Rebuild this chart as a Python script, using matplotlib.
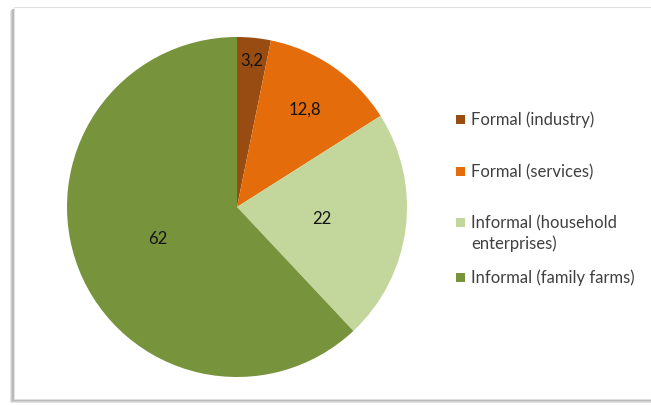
# -*- coding: utf-8 -*-
"""Pie chart of employment shares by sector."""
import numpy
import matplotlib
matplotlib.use('Agg')
# pylint: disable=wrong-import-position
import matplotlib.pyplot
import matplotlib.patches

sectors = [
    'Formal (industry)',
    'Formal (services)',
    'Informal (household\nenterprises)',
    'Informal (family farms)',
]
shares = [3.2, 12.8, 22, 62]
share_labels = ['3,2', '12,8', '22', '62']
colors = ['#984C12', '#E46C0A', '#C3D69B', '#77933C']
label_radius = [0.87, 0.70, 0.50, 0.50]


def main():
    """main."""
    width_px, height_px = 651, 406
    fig = matplotlib.pyplot.figure(figsize=(width_px / 100., height_px / 100.), dpi=100)
    fig.patch.set_facecolor('white')

    # framed chart area with a soft shadow on the left and bottom
    def fx(px):
        return px / width_px

    def fy(py):
        return 1. - py / height_px

    for off, col in [(4, '#e4e4e4'), (3, '#cfcfcf'), (2, '#b8b8b8')]:
        fig.patches.append(matplotlib.patches.Rectangle(
            (fx(14 - off), fy(400 + off)), fx(700), fy(8) - fy(400),
            transform=fig.transFigure, facecolor=col, edgecolor='none',
            zorder=0))
    fig.patches.append(matplotlib.patches.Rectangle(
        (fx(14), fy(400)), fx(700), fy(8) - fy(400),
        transform=fig.transFigure, facecolor='white', edgecolor='#e2e2e2',
        linewidth=0.8, zorder=1))

    # pie axes: centre (237, 208), radius 170 px
    radius = 170
    cx, cy = 237, 208
    ax = fig.add_axes([fx(cx - radius), fy(cy + radius),
                       2 * radius / width_px, 2 * radius / height_px])
    ax.set_zorder(2)
    wedges, _ = ax.pie(shares, colors=colors, startangle=90,
                       counterclock=False, radius=1.0,
                       wedgeprops={'linewidth': 0})
    ax.set_xlim(-1, 1)
    ax.set_ylim(-1, 1)
    ax.set_aspect('auto')
    ax.axis('off')

    for wedge, text, dist in zip(wedges, share_labels, label_radius):
        ang = numpy.deg2rad((wedge.theta1 + wedge.theta2) / 2.)
        ax.text(dist * numpy.cos(ang), dist * numpy.sin(ang), text,
                ha='center', va='center', fontsize=12, family='Lato',
                color='#141414')

    # legend drawn as squares and text
    legend_rows = [120, 172, 223, 278]
    for name, col, py in zip(sectors, colors, legend_rows):
        fig.patches.append(matplotlib.patches.Rectangle(
            (fx(456), fy(py + 4.5)), 8.5 / width_px, 8.5 / height_px,
            transform=fig.transFigure, facecolor=col, edgecolor='none',
            zorder=3))
        n_lines = name.count('\n') + 1
        fig.text(fx(471), fy(py + 10.5 * (n_lines - 1)), name,
                 ha='left', va='center', multialignment='left',
                 fontsize=12, family='Lato', color='#404040',
                 linespacing=1.3, zorder=3)

    fig.savefig('out.png', dpi=100, facecolor='white')


if __name__ == '__main__':
    main()

# EOF
